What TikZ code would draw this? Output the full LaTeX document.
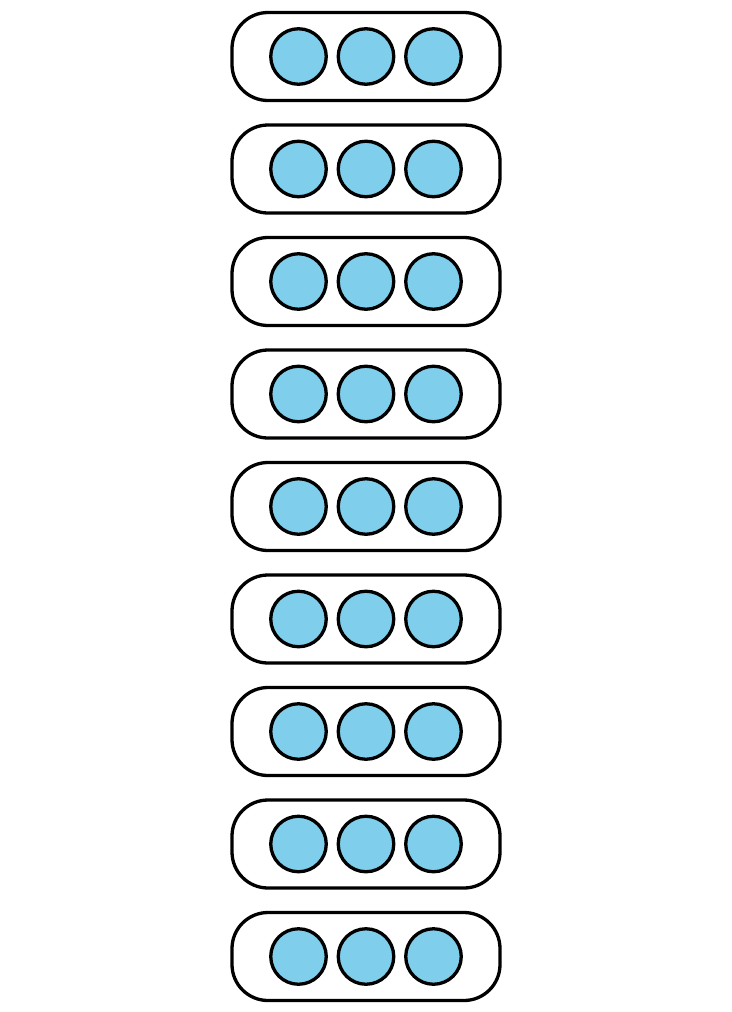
\documentclass[tikz,border=0pt]{standalone}
\definecolor{ballblue}{RGB}{127,206,235}
\begin{document}
\begin{tikzpicture}[x=1pt,y=1pt,
  holder/.style={draw=black,line width=3.3pt,rounded corners=36pt,minimum width=268pt,minimum height=88pt,inner sep=0pt,fill=white},
  ball/.style={circle,draw=black,line width=3.3pt,fill=ballblue,minimum size=55.5pt,inner sep=0pt}]
\useasboundingbox (0,0) rectangle (731,-1012);
\foreach \i in {1,...,9}{
  \pgfmathsetmacro{\yy}{-56.5-112.5*(\i-1)}
  \node[holder] (b\i) at (366,\yy) {};
  \node[ball] (c\i-1) at (298.5,\yy) {};
  \node[ball] (c\i-2) at (366,\yy) {};
  \node[ball] (c\i-3) at (433.5,\yy) {};
}
\end{tikzpicture}
\end{document}
